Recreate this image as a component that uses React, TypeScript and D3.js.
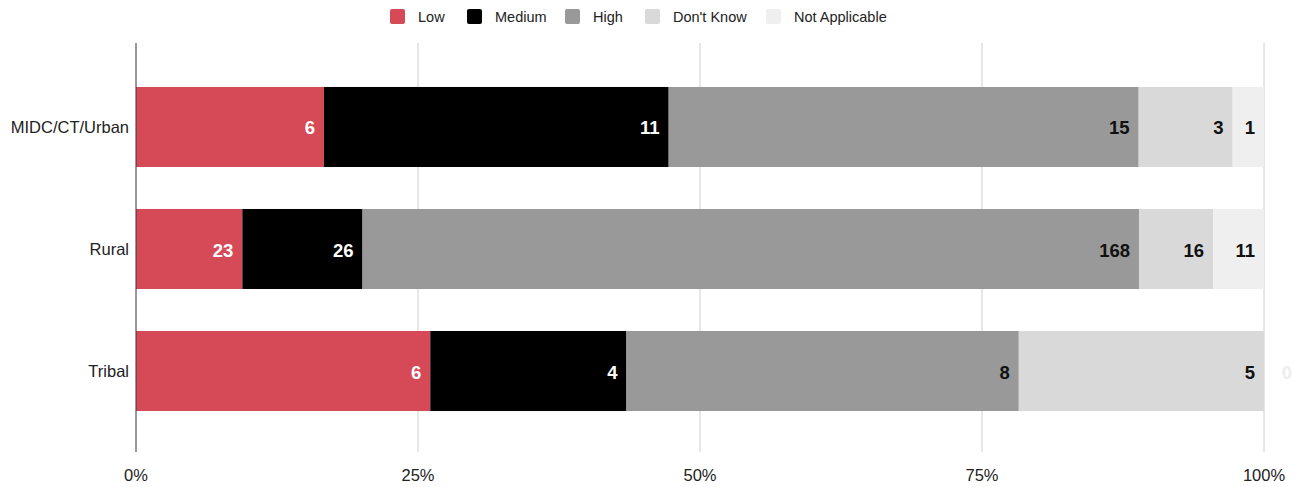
import { useEffect, useRef } from "react";
import * as d3 from "d3";

const categories = ["MIDC/CT/Urban", "Rural", "Tribal"];
const seriesNames = ["Low", "Medium", "High", "Don't Know", "Not Applicable"];
const low = [6, 23, 6];
const medium = [11, 26, 4];
const high = [15, 168, 8];
const dontKnow = [3, 16, 5];
const notApplicable = [1, 11, 0];
const ticks = [0, 0.25, 0.5, 0.75, 1];

const colors = ["#d64a57", "#000000", "#999999", "#d9d9d9", "#efefef"];
const labelColors = ["#ffffff", "#ffffff", "#111111", "#111111", "#111111"];

const W = 1305;
const H = 487;

export default function App() {
  const ref = useRef<SVGSVGElement | null>(null);

  useEffect(() => {
    const svg = d3.select(ref.current!);
    svg.selectAll("*").remove();

    const font = "'Liberation Sans', Arial, sans-serif";
    const margin = { top: 43, right: 41, bottom: 35, left: 136 };
    const w = W - margin.left - margin.right;
    const h = H - margin.top - margin.bottom;

    const series = [low, medium, high, dontKnow, notApplicable];
    const rows = categories.map((c, i) => {
      const r: any = { name: c };
      seriesNames.forEach((s, j) => (r[s] = series[j][i]));
      return r;
    });
    const stacked = d3.stack<any>().keys(seriesNames).offset(d3.stackOffsetExpand)(rows);

    const x = d3.scaleLinear().domain([0, 1]).range([0, w]);
    const y = d3.scaleBand<string>().domain(categories).range([2, 410]).paddingInner(0.344).paddingOuter(0.344);

    const g = svg.append("g").attr("transform", `translate(${margin.left},${margin.top})`);

    // gridlines
    g.selectAll("line.grid")
      .data(ticks.slice(1))
      .join("line")
      .attr("x1", (d) => x(d))
      .attr("x2", (d) => x(d))
      .attr("y1", 0)
      .attr("y2", h)
      .attr("stroke", "#d0d0d0")
      .attr("stroke-width", 1);

    stacked.forEach((layer, j) => {
      const lg = g.append("g");
      lg.selectAll("rect")
        .data(layer)
        .join("rect")
        .attr("x", (d) => x(d[0]))
        .attr("width", (d) => x(d[1]) - x(d[0]))
        .attr("y", (d) => y(d.data.name)!)
        .attr("height", y.bandwidth())
        .attr("fill", colors[j]);
      lg.selectAll("text")
        .data(layer)
        .join("text")
        .attr("x", (d) => (d[1] - d[0] > 0 ? x(d[1]) - 9 : x(d[1]) + 28))
        .attr("y", (d) => y(d.data.name)! + y.bandwidth() / 2 + 1)
        .attr("text-anchor", "end")
        .attr("dominant-baseline", "central")
        .style("font", `bold 18.5px ${font}`)
        .style("fill", (d) => (d[1] - d[0] > 0 ? labelColors[j] : "#eeeeee"))
        .text((d) => d.data[seriesNames[j]]);
    });

    // axis line
    g.append("line")
      .attr("x1", 0)
      .attr("x2", 0)
      .attr("y1", 0)
      .attr("y2", h)
      .attr("stroke", "#333")
      .attr("stroke-width", 1);

    // category labels
    g.selectAll("text.cat")
      .data(categories)
      .join("text")
      .attr("x", -7)
      .attr("y", (d) => y(d)! + y.bandwidth() / 2)
      .attr("text-anchor", "end")
      .attr("dominant-baseline", "central")
      .style("font", `16.5px ${font}`)
      .style("fill", "#222")
      .text((d) => d);

    // tick labels
    g.selectAll("text.tick")
      .data(ticks)
      .join("text")
      .attr("x", (d) => x(d))
      .attr("y", h + 29)
      .attr("text-anchor", "middle")
      .style("font", `16.5px ${font}`)
      .style("fill", "#222")
      .text((d) => d3.format(".0%")(d));

    // legend
    const legendX = [390, 467, 565, 645, 766];
    const lg = svg.append("g");
    seriesNames.forEach((s, j) => {
      lg.append("rect")
        .attr("x", legendX[j])
        .attr("y", 9)
        .attr("width", 15)
        .attr("height", 15)
        .attr("rx", 2)
        .attr("fill", colors[j]);
      lg.append("text")
        .attr("x", legendX[j] + 28)
        .attr("y", 17)
        .attr("dominant-baseline", "central")
        .style("font", `14.5px ${font}`)
        .style("fill", "#222")
        .text(s);
    });
  }, []);

  return (
    <div style={{ position: "fixed", left: 0, top: 0, background: "#fff" }}>
      <svg ref={ref} width={W} height={H} />
    </div>
  );
}
